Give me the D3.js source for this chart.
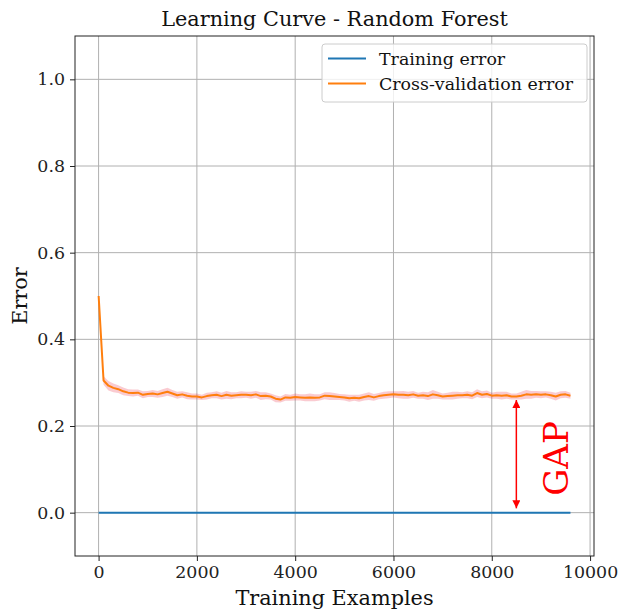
<!DOCTYPE html>
<html>
<head>
<meta charset="utf-8">
<script src="https://cdn.jsdelivr.net/npm/d3@7/dist/d3.min.js"></script>
<style>
  html, body { margin: 0; padding: 0; background: #fff; }
  svg { display: block; font-family: "DejaVu Serif", serif; }
</style>
</head>
<body>
<svg id="chart" width="622" height="609"></svg>
<script>
// Training set sizes used for the learning curve
const trainSizes = [
  1, 101, 201, 301, 401, 501, 601, 701, 801, 901,
  1001, 1101, 1201, 1301, 1401, 1501, 1601, 1701, 1801, 1901,
  2001, 2101, 2201, 2301, 2401, 2501, 2601, 2701, 2801, 2901,
  3001, 3101, 3201, 3301, 3401, 3501, 3601, 3701, 3801, 3901,
  4001, 4101, 4201, 4301, 4401, 4501, 4601, 4701, 4801, 4901,
  5001, 5101, 5201, 5301, 5401, 5501, 5601, 5701, 5801, 5901,
  6001, 6101, 6201, 6301, 6401, 6501, 6601, 6701, 6801, 6901,
  7001, 7101, 7201, 7301, 7401, 7501, 7601, 7701, 7801, 7901,
  8001, 8101, 8201, 8301, 8401, 8501, 8601, 8701, 8801, 8901,
  9001, 9101, 9201, 9301, 9401, 9501, 9601
];

// Mean training error (random forest fits the training data perfectly)
const trainError = [
  0, 0, 0, 0, 0, 0, 0, 0, 0, 0,
  0, 0, 0, 0, 0, 0, 0, 0, 0, 0,
  0, 0, 0, 0, 0, 0, 0, 0, 0, 0,
  0, 0, 0, 0, 0, 0, 0, 0, 0, 0,
  0, 0, 0, 0, 0, 0, 0, 0, 0, 0,
  0, 0, 0, 0, 0, 0, 0, 0, 0, 0,
  0, 0, 0, 0, 0, 0, 0, 0, 0, 0,
  0, 0, 0, 0, 0, 0, 0, 0, 0, 0,
  0, 0, 0, 0, 0, 0, 0, 0, 0, 0,
  0, 0, 0, 0, 0, 0, 0
];

// Mean cross-validation error
const cvError = [
  0.500, 0.305, 0.293, 0.288, 0.285, 0.280, 0.277, 0.276, 0.277, 0.272,
  0.274, 0.275, 0.273, 0.276, 0.279, 0.275, 0.271, 0.273, 0.270, 0.268,
  0.268, 0.266, 0.269, 0.271, 0.272, 0.269, 0.272, 0.270, 0.271, 0.272,
  0.272, 0.271, 0.273, 0.269, 0.270, 0.268, 0.263, 0.261, 0.266, 0.265,
  0.267, 0.266, 0.265, 0.266, 0.265, 0.266, 0.270, 0.269, 0.268, 0.267,
  0.266, 0.264, 0.265, 0.264, 0.267, 0.269, 0.266, 0.269, 0.271, 0.272,
  0.273, 0.272, 0.272, 0.271, 0.273, 0.270, 0.271, 0.269, 0.273, 0.271,
  0.268, 0.269, 0.270, 0.271, 0.271, 0.272, 0.270, 0.276, 0.272, 0.274,
  0.270, 0.271, 0.270, 0.271, 0.268, 0.268, 0.270, 0.273, 0.272, 0.273,
  0.272, 0.273, 0.271, 0.268, 0.272, 0.273, 0.270
];

// Standard deviation of the cross-validation error across folds
const cvStd = [
  0.003, 0.010, 0.011, 0.010, 0.009, 0.009, 0.008, 0.008, 0.007, 0.008,
  0.007, 0.008, 0.008, 0.009, 0.009, 0.008, 0.008, 0.007, 0.008, 0.007,
  0.007, 0.006, 0.008, 0.007, 0.008, 0.008, 0.009, 0.008, 0.007, 0.008,
  0.007, 0.008, 0.008, 0.009, 0.008, 0.007, 0.008, 0.007, 0.008, 0.007,
  0.008, 0.007, 0.008, 0.009, 0.008, 0.007, 0.008, 0.009, 0.008, 0.007,
  0.007, 0.008, 0.007, 0.008, 0.008, 0.009, 0.008, 0.007, 0.008, 0.008,
  0.007, 0.008, 0.009, 0.008, 0.008, 0.007, 0.008, 0.009, 0.010, 0.008,
  0.007, 0.008, 0.009, 0.008, 0.007, 0.008, 0.008, 0.009, 0.008, 0.008,
  0.007, 0.008, 0.009, 0.008, 0.007, 0.007, 0.009, 0.010, 0.009, 0.008,
  0.008, 0.007, 0.008, 0.009, 0.008, 0.008, 0.007
];

const xTicks = [0, 2000, 4000, 6000, 8000, 10000];
const yTicks = [0.0, 0.2, 0.4, 0.6, 0.8, 1.0];
const seriesNames = ["Training error", "Cross-validation error"];
const seriesColors = ["#1f77b4", "#ff7f0e"];

// Gap annotation between the two curves
const gapX = 8500;
const gapRange = [0.01, 0.26];
const gapLabel = "GAP";

const svg = d3.select("#chart");
const plotL = 75, plotR = 594, plotT = 36, plotB = 556;

const x = d3.scaleLinear().domain([-480, 10080]).range([plotL, plotR]);
const y = d3.scaleLinear().domain([-0.1, 1.1]).range([plotB, plotT]);

const gridColor = "#b0b0b0";
const labelSize = 20.8, tickSize = 17.4;

// Grid lines
svg.append("g").selectAll("line").data(xTicks).join("line")
  .attr("x1", d => x(d)).attr("x2", d => x(d))
  .attr("y1", plotT).attr("y2", plotB)
  .attr("stroke", gridColor).attr("stroke-width", 1);
svg.append("g").selectAll("line").data(yTicks).join("line")
  .attr("x1", plotL).attr("x2", plotR)
  .attr("y1", d => y(d)).attr("y2", d => y(d))
  .attr("stroke", gridColor).attr("stroke-width", 1);

const cvData = trainSizes.map((s, i) => ({ s, m: cvError[i], sd: cvStd[i] }));
const trData = trainSizes.map((s, i) => ({ s, m: trainError[i] }));

// Shaded ±1 std band around the cross-validation error
svg.append("path")
  .datum(cvData)
  .attr("fill", "#e8112d").attr("fill-opacity", 0.22)
  .attr("d", d3.area().x(d => x(d.s)).y0(d => y(d.m - d.sd)).y1(d => y(d.m + d.sd)));

const line = d3.line().x(d => x(d.s)).y(d => y(d.m));
svg.append("path").datum(trData)
  .attr("fill", "none").attr("stroke", seriesColors[0]).attr("stroke-width", 2)
  .attr("d", line);
svg.append("path").datum(cvData)
  .attr("fill", "none").attr("stroke", seriesColors[1]).attr("stroke-width", 2)
  .attr("stroke-linejoin", "round")
  .attr("d", line);

// Axes
const xAxis = svg.append("g").attr("transform", `translate(0,${plotB})`)
  .call(d3.axisBottom(x).tickValues(xTicks).tickFormat(d3.format("d")).tickSize(5).tickPadding(5));
const yAxis = svg.append("g").attr("transform", `translate(${plotL},0)`)
  .call(d3.axisLeft(y).tickValues(yTicks).tickFormat(d3.format(".1f")).tickSize(5).tickPadding(5));
[xAxis, yAxis].forEach(a => {
  a.select(".domain").remove();
  a.selectAll("text").attr("font-family", "DejaVu Serif, serif").attr("font-size", tickSize).attr("fill", "#222");
  a.selectAll("line").attr("stroke", "#222");
});

// Frame
svg.append("rect")
  .attr("x", plotL).attr("y", plotT).attr("width", plotR - plotL).attr("height", plotB - plotT)
  .attr("fill", "none").attr("stroke", "#222").attr("stroke-width", 1);

// Title and axis labels
svg.append("text").attr("x", (plotL + plotR) / 2).attr("y", 26)
  .attr("text-anchor", "middle").attr("font-size", labelSize).attr("fill", "#111")
  .text("Learning Curve - Random Forest");
svg.append("text").attr("x", (plotL + plotR) / 2).attr("y", 605)
  .attr("text-anchor", "middle").attr("font-size", labelSize).attr("fill", "#111")
  .text("Training Examples");
svg.append("text")
  .attr("transform", `translate(27,${(plotT + plotB) / 2}) rotate(-90)`)
  .attr("text-anchor", "middle").attr("font-size", labelSize).attr("fill", "#111")
  .text("Error");

// Double-headed arrow for the gap
const defs = svg.append("defs");
["start", "end"].forEach(k => {
  defs.append("marker")
    .attr("id", "arrow-" + k)
    .attr("viewBox", "0 0 10 10")
    .attr("refX", 10).attr("refY", 5)
    .attr("markerUnits", "userSpaceOnUse")
    .attr("markerWidth", 9).attr("markerHeight", 8)
    .attr("orient", k === "start" ? "auto-start-reverse" : "auto")
    .append("path").attr("d", "M0,0 L10,5 L0,10 z").attr("fill", "red");
});
svg.append("line")
  .attr("x1", x(gapX)).attr("x2", x(gapX))
  .attr("y1", y(gapRange[0])).attr("y2", y(gapRange[1]))
  .attr("stroke", "red").attr("stroke-width", 1.5)
  .attr("marker-start", "url(#arrow-start)")
  .attr("marker-end", "url(#arrow-end)");
svg.append("text")
  .attr("transform", `translate(568,${y(0.125)}) rotate(-90)`)
  .attr("text-anchor", "middle").attr("font-size", 34).attr("fill", "red")
  .text(gapLabel);

// Legend
const lg = svg.append("g").attr("transform", "translate(322,44)");
lg.append("rect").attr("width", 265).attr("height", 58).attr("rx", 3)
  .attr("fill", "#fff").attr("fill-opacity", 0.8)
  .attr("stroke", "#ccc").attr("stroke-width", 1);
seriesNames.forEach((n, i) => {
  const yy = 14.5 + i * 25;
  lg.append("line").attr("x1", 6).attr("x2", 44).attr("y1", yy).attr("y2", yy)
    .attr("stroke", seriesColors[i]).attr("stroke-width", 2);
  lg.append("text").attr("x", 57).attr("y", yy + 6)
    .attr("font-size", tickSize).attr("fill", "#111").text(n);
});
</script>
</body>
</html>
